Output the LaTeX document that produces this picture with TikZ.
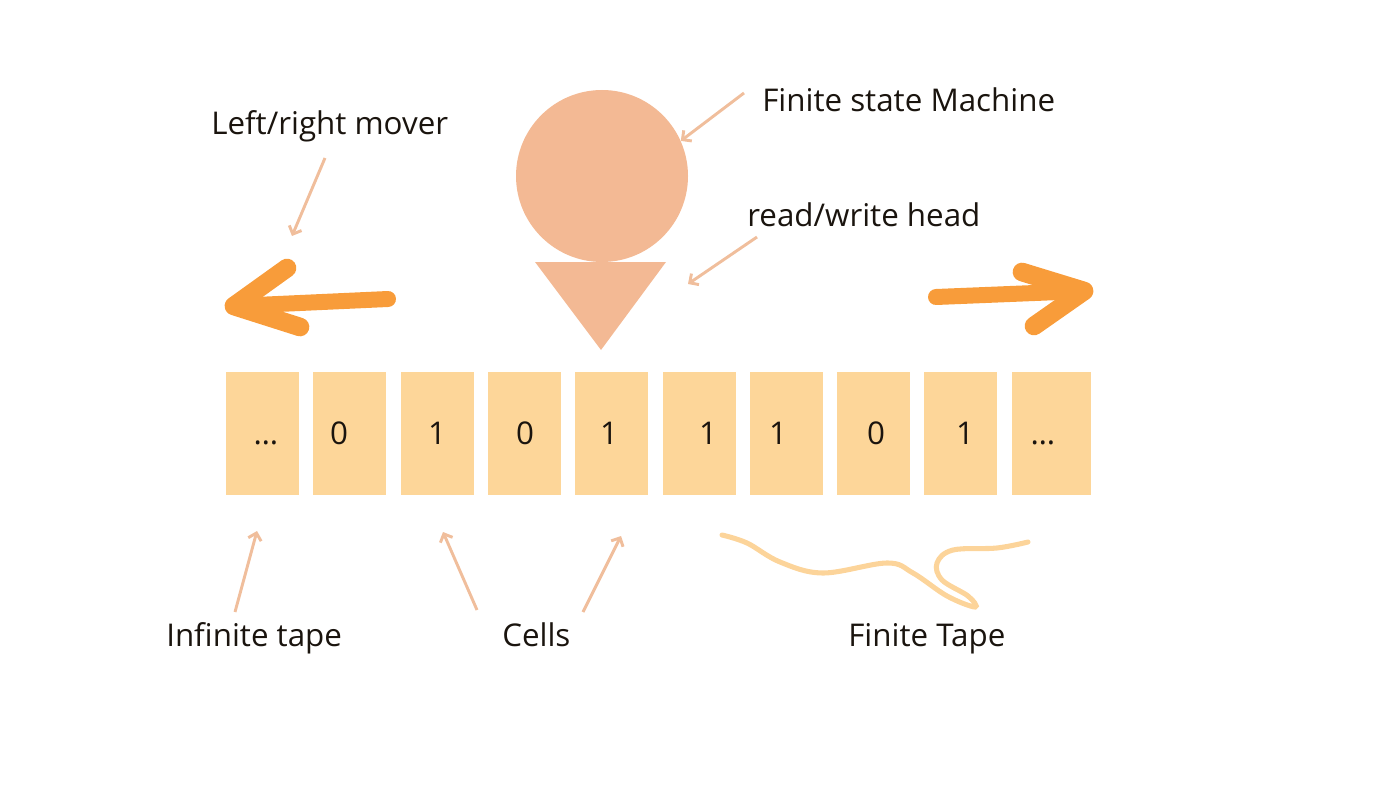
\documentclass[tikz,border=0pt]{standalone}
\usepackage{fontspec}
\setmainfont{Open Sans}
\usetikzlibrary{arrows.meta}
\definecolor{cellfill}{HTML}{FDD699}
\definecolor{fsmpeach}{HTML}{F3B994}
\definecolor{ptrpeach}{HTML}{F0BE9C}
\definecolor{moverorange}{HTML}{F89C3A}
\definecolor{tapeline}{HTML}{FCD49A}
\definecolor{ink}{HTML}{1A140E}
\begin{document}
\begin{tikzpicture}[
      x=0.75pt, y=-0.75pt,
      cell/.style = {fill=cellfill, draw=none, inner sep=0pt,
                     minimum height=123*0.75pt},
      bit/.style  = {text=ink, font=\fontsize{23.5pt}{28pt}\selectfont, inner sep=0pt},
      lbl/.style  = {text=ink, font=\fontsize{23.5pt}{28pt}\selectfont, inner sep=0pt,
                     anchor=base west},
      ptr/.style  = {draw=ptrpeach, line width=2.2pt,
                     -{Straight Barb[length=5pt,width=10pt]}},
      mover/.style = {draw=moverorange, line width=12pt, line cap=round,
                      line join=round},
    ]
    \useasboundingbox (0,0) rectangle (1400,788);
    % machine: state circle + head
    \node[circle, fill=fsmpeach, inner sep=0pt, minimum size=172*0.75pt] (fsm) at (602,176) {};
    \fill[fsmpeach] (535,262) -- (666,262) -- (601,350) -- cycle;
    % tape
    \foreach \i/\tx/\v/\w in {1/266/\ldots/73, 2/339/0/73, 3/437/1/73, 4/525/0/73,
                              5/609/1/73, 6/708/1/73, 7/778/1/73, 8/876/0/73,
                              9/965/1/73, 10/1043/\ldots/79}{
      \node[cell, minimum width=\w*0.75pt] (c\i) at ({226+87.3*(\i-1)+\w/2},433.5) {};
      \node[bit, anchor=base] at (\tx,444) {\v};
    }
    % movers
    \draw[mover] (388,299) -- (234,306);
    \draw[mover, line width=14pt] (287,268) -- (234,306) -- (300,327);
    \draw[mover] (936,297) -- (1084,291);
    \draw[mover, line width=14pt] (1022,272) -- (1084,291) -- (1034,326);
    % finite tape squiggle
    \draw[tapeline, line width=3.8pt, line cap=round]
      plot[smooth, tension=0.6] coordinates {(722,535) (747,543) (780,562) (823,573)
        (887,563) (913,573) (947,596) (975,607) (968,596) (942,580) (937,563)
        (953,550) (997,548) (1028,542)};
    % labels
    \node[lbl] (lrm) at (211,135) {Left/right mover};
    \node[lbl] (fsml) at (762,112) {Finite state Machine};
    \node[lbl] (rwh) at (747,227) {read/write head};
    \node[lbl] (inf) at (166,646) {Infinite tape};
    \node[lbl] (cel) at (502,646) {Cells};
    \node[lbl] (fin) at (848,646) {Finite Tape};
    % pointers
    \coordinate (lrmS) at (325,158);  \coordinate (lrmE) at (292,236);
    \coordinate (fsmS) at (744,93);
    \coordinate (rwhS) at (757,237);  \coordinate (rwhE) at (688,284);
    \coordinate (infS) at (235,612);  \coordinate (infE) at (257,531);
    \coordinate (celS) at (477,610);  \coordinate (celE) at (443,532);
    \coordinate (celT) at (583,612);  \coordinate (celF) at (621,536);
    \draw[ptr] (lrmS) -- (lrmE);
    \draw[ptr] (fsmS) -- (fsm.24);
    \draw[ptr] (rwhS) -- (rwhE);
    \draw[ptr] (infS) -- (infE);
    \draw[ptr] (celS) -- (celE);
    \draw[ptr] (celT) -- (celF);
  \end{tikzpicture}
\end{document}
